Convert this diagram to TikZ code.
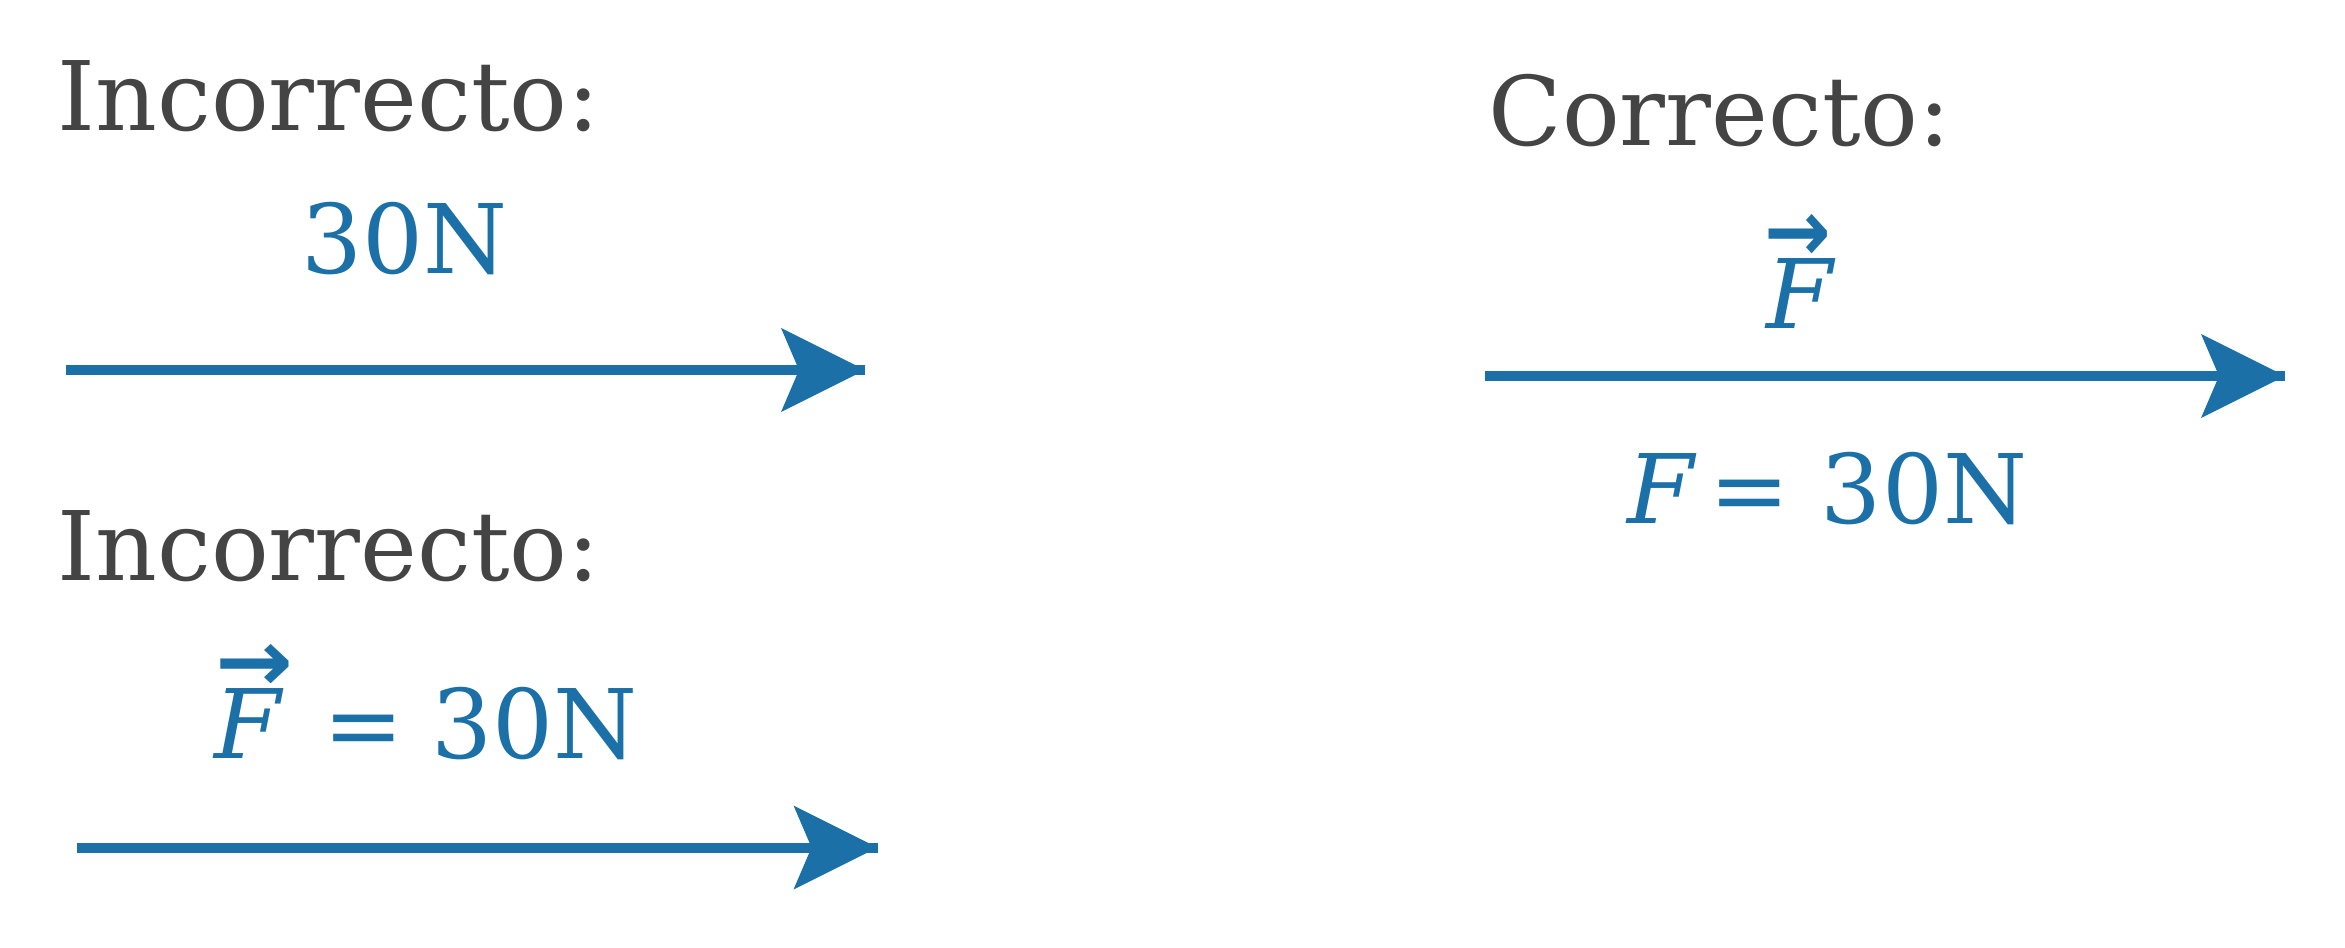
\documentclass[tikz,border=0pt]{standalone}
\usepackage{fontspec}
\usepackage{graphicx}
\setmainfont{DejaVu Serif}
\newfontfamily\vecsans{DejaVu Sans}
\usetikzlibrary{arrows.meta}
\definecolor{fblue}{RGB}{28,112,168}
\definecolor{tgray}{RGB}{68,68,68}
\newcommand{\vecarrow}[2]{\leavevmode\rlap{\hspace{#2}\raisebox{19.9pt}{\scalebox{#1}[0.91]{\vecsans\bfseries →}}}}
\begin{document}
\begin{tikzpicture}[x=0.3pt,y=-0.3pt,
  lbl/.style={font=\fontsize{28.8pt}{34pt}\selectfont, inner sep=0pt, anchor=base west},
  shaft/.style={draw=fblue, line width=3pt},
  headarrow/.style={draw=fblue, line width=3pt, -{Stealth[length=25.2pt, width=25.2pt, inset=5.4pt, line width=0pt, fill=fblue]}}]
\useasboundingbox (0,0) rectangle (2345,948);
% left top
\node[lbl, text=tgray] (inc1) at (57,130.5) {Incorrecto:};
\node[lbl, text=fblue] (val1) at (301,273) {30N};
\coordinate (s1) at (66,370);
\coordinate (e1) at (865,370);
\draw[shaft] (s1) -- (e1);
\draw[headarrow] (s1) -- (e1);
% left bottom
\node[lbl, text=tgray] (inc2) at (57,580.5) {Incorrecto:};
\node[lbl, text=fblue] (val2) at (214,758) {\vecarrow{0.97}{0.25pt}\textit{F}\kern11.7pt=\kern8.4pt30N};
\coordinate (s2) at (76.5,847.5);
\coordinate (e2) at (877.5,847.5);
\draw[shaft] (s2) -- (e2);
\draw[headarrow] (s2) -- (e2);
% right
\node[lbl, text=tgray] (cor) at (1488,145.5) {Correcto:};
\node[lbl, text=fblue] (vecF) at (1766,328) {\vecarrow{0.83}{-0.55pt}\textit{F}};
\coordinate (s3) at (1485,376);
\coordinate (e3) at (2285,376);
\draw[shaft] (s3) -- (e3);
\draw[headarrow] (s3) -- (e3);
\node[lbl, text=fblue] (val3) at (1627,523) {\textit{F}\kern3.75pt=\kern9.3pt30N};
\end{tikzpicture}
\end{document}
